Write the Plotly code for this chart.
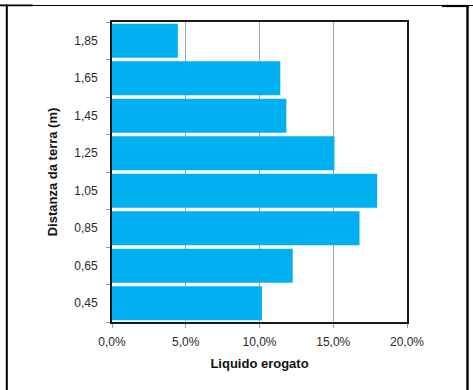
import plotly.graph_objects as go

# Heights above ground (m) and share of liquid delivered (%)
heights = ["0,45", "0,65", "0,85", "1,05", "1,25", "1,45", "1,65", "1,85"]
liquid_pct = [10.17, 12.25, 16.78, 17.98, 15.08, 11.82, 11.41, 4.46]

x_ticks = [0, 5, 10, 15, 20]
x_tick_labels = ["0,0%", "5,0%", "10,0%", "15,0%", "20,0%"]

W, H = 473, 390
L, R, T, B = 112, 66, 22, 68
PW, PH = W - L - R, H - T - B


def px(x):
    return (x - L) / PW


def py(y):
    return (H - B - y) / PH


fig = go.Figure(
    go.Bar(
        x=liquid_pct,
        y=heights,
        orientation="h",
        marker=dict(color="#00B0F0", line=dict(width=0)),
        hoverinfo="x+y",
    )
)

# Surrounding cell border lines
frame = "#000000"
shapes = [
    dict(x0=px(0), x1=px(W), y0=py(5.5), y1=py(5.5), w=1.2),
    dict(x0=px(0), x1=px(33), y0=py(5.3), y1=py(5.3), w=1.8),
    dict(x0=px(442), x1=px(469), y0=py(6), y1=py(6), w=2.2),
    dict(x0=px(6.8), x1=px(6.8), y0=py(4.5), y1=py(H + 2), w=2),
    dict(x0=px(467.5), x1=px(467.5), y0=py(5), y1=py(H + 2), w=2.4),
]
fig.update_layout(
    shapes=[
        dict(type="line", xref="paper", yref="paper",
             x0=s["x0"], x1=s["x1"], y0=s["y0"], y1=s["y1"],
             line=dict(color=frame, width=s["w"]), layer="above")
        for s in shapes
    ]
)

fig.update_layout(
    width=W,
    height=H,
    margin=dict(l=L, r=R, t=T, b=B, pad=0),
    paper_bgcolor="white",
    plot_bgcolor="white",
    bargap=0.09,
    showlegend=False,
    font=dict(family="Liberation Sans, Arial, sans-serif", size=12, color="#2a2a2a"),
    xaxis=dict(
        range=[0, 20],
        tickvals=x_ticks,
        ticktext=x_tick_labels,
        showgrid=True,
        gridcolor="#A8A8A8",
        gridwidth=1,
        zeroline=False,
        showline=True,
        mirror=True,
        linecolor="#1a1a1a",
        linewidth=2,
        ticks="outside",
        ticklen=4,
        tickcolor="#999999",
        ticklabelstandoff=4,
        title=dict(text="<b>Liquido erogato</b>", font=dict(size=13, color="#111111"), standoff=10),
        automargin=False,
        fixedrange=True,
    ),
    yaxis=dict(
        type="category",
        categoryorder="array",
        categoryarray=heights,
        showgrid=False,
        zeroline=False,
        showline=True,
        mirror=True,
        linecolor="#1a1a1a",
        linewidth=2,
        ticks="outside",
        tickson="boundaries",
        ticklen=4,
        tickcolor="#999999",
        ticklabelstandoff=10,
        title=dict(text="<b>Distanza da terra (m)</b>", font=dict(size=13, color="#111111"), standoff=14),
        automargin=False,
        fixedrange=True,
    ),
)

fig.write_html("out.html", config={"displayModeBar": False})
